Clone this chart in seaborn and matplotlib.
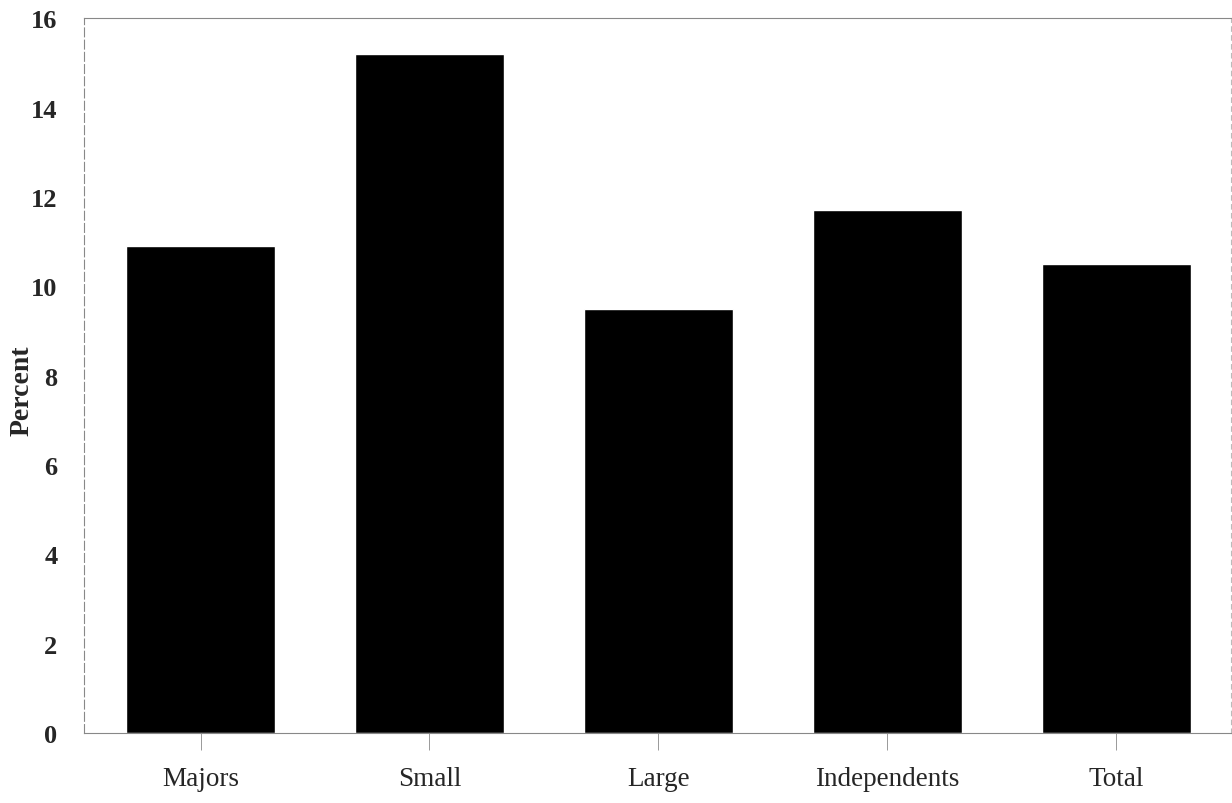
import seaborn as sb
import pandas as pd
import matplotlib.pyplot as plt

# categories and percent values
groups = ['Majors', 'Small', 'Large', 'Independents', 'Total']
percent = [10.9, 15.2, 9.5, 11.7, 10.5]
y_ticks = [0, 2, 4, 6, 8, 10, 12, 14, 16]

df = pd.DataFrame({'Group': groups, 'Percent': percent})

sb.set_style('white')
plt.rcParams['font.family'] = ['Liberation Serif', 'DejaVu Serif']

fig = plt.figure(figsize=(12.32, 8.04), dpi=100)
ax = fig.add_axes([0.068, 0.087, 0.931, 0.889])

sb.barplot(x='Group', y='Percent', data=df, color='black', saturation=1,
           width=0.65, ax=ax)

ax.set_xlim(-0.51, 4.5)
ax.set_ylim(0, 16)
ax.set_yticks(y_ticks)
ax.set_yticklabels([str(t) for t in y_ticks], fontsize=19, fontweight='bold')
ax.set_xticks(range(len(groups)))
ax.set_xticklabels(groups, fontsize=19.5)
ax.set_xlabel('')
ax.set_ylabel('Percent', fontsize=20, fontweight='bold')
ax.yaxis.set_label_coords(-0.043, 0.48)

ax.tick_params(axis='y', left=False, length=0, pad=19)
ax.tick_params(axis='x', bottom=True, length=12, width=0.7, color='#999999', pad=12)

for side in ['left', 'right', 'top', 'bottom']:
    ax.spines[side].set_visible(True)
    ax.spines[side].set_color('#888888')
    ax.spines[side].set_linewidth(0.8)
ax.spines['left'].set_linestyle((0, (8, 3)))
ax.spines['right'].set_linestyle((0, (4, 4)))
ax.spines['right'].set_color('#bbbbbb')

fig.savefig('out.png', dpi=100)
